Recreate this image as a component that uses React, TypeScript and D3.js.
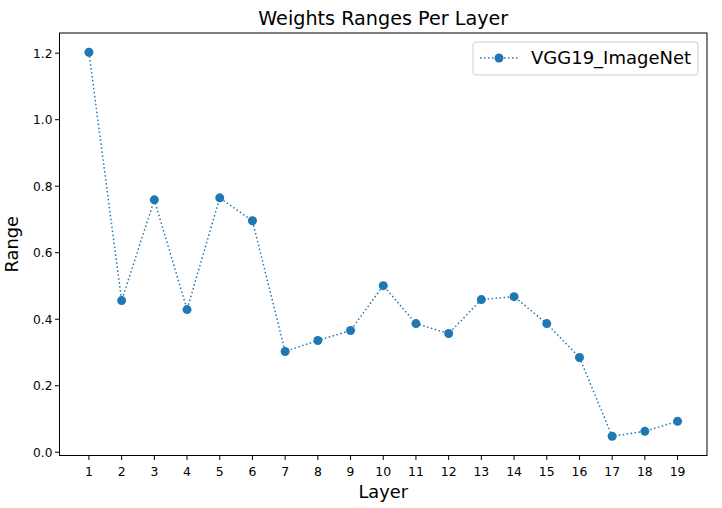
import React from "react";
import * as d3 from "d3";

const layers = [1, 2, 3, 4, 5, 6, 7, 8, 9, 10, 11, 12, 13, 14, 15, 16, 17, 18, 19];
const ranges = [1.203, 0.456, 0.759, 0.429, 0.765, 0.696, 0.303, 0.336, 0.366, 0.501, 0.387, 0.357, 0.459, 0.468, 0.387, 0.285, 0.048, 0.063, 0.093];
const yTicks = [0.0, 0.2, 0.4, 0.6, 0.8, 1.0, 1.2];
const seriesName = "VGG19_ImageNet";

export default function App() {
  const W = 722, H = 508;
  const L = 59.5, R = 707, T = 33, B = 455.5;
  const x = d3.scaleLinear().domain([0.1, 19.9]).range([L, R]);
  const yMin = d3.min(ranges)!, yMax = d3.max(ranges)!;
  const pad = (yMax - yMin) * 0.05;
  const y = d3.scaleLinear().domain([yMin - pad, yMax + pad]).range([B, T]);
  const line = d3.line<number>().x((_, i) => x(layers[i])).y((d) => y(d));
  const color = "#1f77b4";
  const font = "DejaVu Sans, sans-serif";
  return (
    <svg width={W} height={H} style={{ position: "absolute", left: 0, top: 0, background: "#fff" }} fontFamily={font}>
      <rect width={W} height={H} fill="#fff" />
      <text x={(L + R) / 2} y={25} textAnchor="middle" fontSize={19.2}>Weights Ranges Per Layer</text>
      <path d={line(ranges)!} fill="none" stroke={color} strokeWidth={1.5} strokeDasharray="1.5,2.5" />
      {ranges.map((d, i) => (
        <circle key={i} cx={x(layers[i])} cy={y(d)} r={4.5} fill={color} />
      ))}
      <rect x={L} y={T} width={R - L} height={B - T} fill="none" stroke="#000" strokeWidth={1} />
      {layers.map((l) => (
        <g key={l} transform={`translate(${x(l)},${B})`}>
          <line y2={4.5} stroke="#000" />
          <text y={20.5} textAnchor="middle" fontSize={12.4}>{l}</text>
        </g>
      ))}
      {yTicks.map((t) => (
        <g key={t} transform={`translate(${L},${y(t)})`}>
          <line x2={-4.5} stroke="#000" />
          <text x={-7} dy="0.36em" textAnchor="end" fontSize={12.2}>{t.toFixed(1)}</text>
        </g>
      ))}
      <text x={(L + R) / 2} y={497.5} textAnchor="middle" fontSize={17.8}>Layer</text>
      <text transform={`translate(18,${(T + B) / 2}) rotate(-90)`} textAnchor="middle" fontSize={17.8}>Range</text>
      <g transform="translate(473,42)">
        <rect width={225} height={33} rx={3} fill="#fff" stroke="#ccc" />
        <line x1={7} x2={46} y1={16} y2={16} stroke={color} strokeWidth={1.5} strokeDasharray="1.5,2.5" />
        <circle cx={26} cy={16} r={4.5} fill={color} />
        <text x={58} y={16} dy="0.36em" fontSize={18}>{seriesName}</text>
      </g>
    </svg>
  );
}
